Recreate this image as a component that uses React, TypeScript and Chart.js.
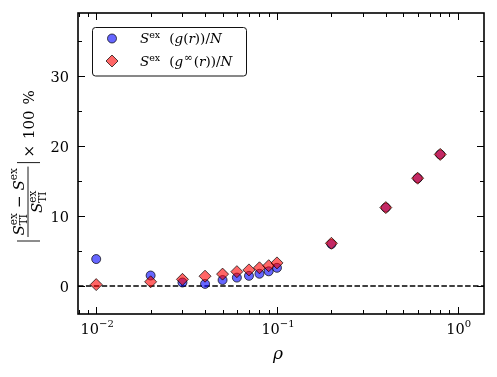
import React, { useEffect, useRef } from 'react';
import { Chart, registerables } from 'chart.js';

Chart.register(...registerables);

// ---- data ----
const RHO = [0.01, 0.02, 0.03, 0.04, 0.05, 0.06, 0.07, 0.08, 0.09, 0.1, 0.2, 0.4, 0.6, 0.8];
const ERR_G = [3.85, 1.5, 0.5, 0.3, 0.85, 1.2, 1.45, 1.75, 2.1, 2.6, 6.0, 11.2, 15.4, 18.8];
const ERR_GINF = [0.2, 0.6, 0.95, 1.4, 1.7, 2.05, 2.3, 2.6, 2.9, 3.3, 6.1, 11.2, 15.4, 18.8];
const Y_TICKS = [0, 10, 20, 30];
const Y_MINOR = [5, 15, 25, 35];
const X_EXPONENTS = [-2, -1, 0];
const ZERO_LINE = 0;
const X_MIN = 0.00793;
const X_MAX = 1.397;
const Y_MIN = -4;
const Y_MAX = 39;

const FONT = '"DejaVu Serif", serif';

interface Seg { t: string; s: number; it?: boolean; dy?: number; dx?: number; stack?: boolean }

function runSegs(ctx: CanvasRenderingContext2D, segs: Seg[], x0: number, y0: number, draw: boolean): number {
  let x = x0;
  let lastStart = x0;
  for (const sg of segs) {
    ctx.font = `${sg.it ? 'italic ' : ''}${sg.s}px ${FONT}`;
    const w = ctx.measureText(sg.t).width;
    const start = sg.stack ? lastStart : x + (sg.dx || 0);
    if (draw) ctx.fillText(sg.t, start, y0 + (sg.dy || 0));
    x = sg.stack ? Math.max(x, start + w) : start + w;
    lastStart = start;
  }
  return x - x0;
}

function drawCentered(ctx: CanvasRenderingContext2D, segs: Seg[], cx: number, y: number) {
  const w = runSegs(ctx, segs, 0, 0, false);
  runSegs(ctx, segs, cx - w / 2, y, true);
}

const decoPlugin = {
  id: 'deco',
  beforeDatasetsDraw(chart: any) {
    const { ctx, chartArea: a, scales } = chart;
    const y0 = scales.y.getPixelForValue(ZERO_LINE);
    ctx.save();
    ctx.strokeStyle = '#000';
    ctx.lineWidth = 1.5;
    ctx.setLineDash([5.5, 2.4]);
    ctx.beginPath();
    ctx.moveTo(a.left, y0);
    ctx.lineTo(a.right, y0);
    ctx.stroke();
    ctx.restore();
  },
  afterDraw(chart: any) {
    const { ctx, chartArea: a, scales } = chart;
    const xs = scales.x;
    const ys = scales.y;
    ctx.save();
    ctx.fillStyle = '#000';
    ctx.strokeStyle = '#000';
    ctx.textAlign = 'left';
    ctx.textBaseline = 'alphabetic';

    // ticks (inward, all four sides)
    ctx.lineWidth = 1;
    const MAJ = 7, MIN = 4;
    const xTick = (v: number, len: number) => {
      const px = Math.round(xs.getPixelForValue(v)) + 0.5;
      if (px < a.left || px > a.right) return;
      ctx.beginPath();
      ctx.moveTo(px, a.bottom); ctx.lineTo(px, a.bottom - len);
      ctx.moveTo(px, a.top); ctx.lineTo(px, a.top + len);
      ctx.stroke();
    };
    const yTick = (v: number, len: number) => {
      const py = Math.round(ys.getPixelForValue(v)) + 0.5;
      if (py < a.top || py > a.bottom) return;
      ctx.beginPath();
      ctx.moveTo(a.left, py); ctx.lineTo(a.left + len, py);
      ctx.moveTo(a.right, py); ctx.lineTo(a.right - len, py);
      ctx.stroke();
    };
    for (let e = -3; e <= 0; e++) {
      const base = Math.pow(10, e);
      if (base >= X_MIN) xTick(base, MAJ);
      for (let k = 2; k <= 9; k++) {
        const v = k * base;
        if (v >= X_MIN && v <= X_MAX) xTick(v, MIN);
      }
    }
    Y_TICKS.forEach((v) => yTick(v, MAJ));
    Y_MINOR.forEach((v) => yTick(v, MIN));

    // frame
    ctx.lineWidth = 1.6;
    ctx.strokeRect(a.left, a.top, a.right - a.left, a.bottom - a.top);

    // y tick labels
    ctx.textAlign = 'right';
    ctx.font = `14.5px ${FONT}`;
    Y_TICKS.forEach((v) => {
      ctx.fillText(String(v), a.left - 9, ys.getPixelForValue(v) + 5.5);
    });
    ctx.textAlign = 'left';

    // x tick labels
    X_EXPONENTS.forEach((e) => {
      const segs: Seg[] = [
        { t: '10', s: 14.5 },
        { t: e < 0 ? '\u2212' + String(-e) : String(e), s: 10, dy: -7 },
      ];
      drawCentered(ctx, segs, xs.getPixelForValue(Math.pow(10, e)) + 1, a.bottom + 20);
    });

    // x label
    drawCentered(ctx, [{ t: '\u03c1', s: 17, it: true }], (a.left + a.right) / 2 - 3, a.bottom + 45);

    // y label (rotated)
    ctx.save();
    ctx.translate(28, 241);
    ctx.rotate(-Math.PI / 2);
    ctx.lineWidth = 0.9;
    const num: Seg[] = [
      { t: 'S', s: 15, it: true },
      { t: 'ex', s: 10.5, dy: -6.5 },
      { t: 'TI', s: 10.5, dy: 3.5, stack: true },
      { t: '\u2212', s: 15, dx: 5 },
      { t: 'S', s: 15, it: true, dx: 5 },
      { t: 'ex', s: 10.5, dy: -6.5 },
    ];
    const den: Seg[] = [
      { t: 'S', s: 15, it: true },
      { t: 'ex', s: 10.5, dy: -6.5 },
      { t: 'TI', s: 10.5, dy: 3.5, stack: true },
    ];
    const wn = runSegs(ctx, num, 0, 0, false);
    const wd = runSegs(ctx, den, 0, 0, false);
    const W = Math.max(wn, wd) + 3;
    const u0 = 4;
    // left bar
    ctx.beginPath(); ctx.moveTo(0, -11); ctx.lineTo(0, 12); ctx.stroke();
    runSegs(ctx, num, u0 + (W - wn) / 2, -4.5, true);
    ctx.beginPath(); ctx.moveTo(u0, 0); ctx.lineTo(u0 + W, 0); ctx.stroke();
    runSegs(ctx, den, u0 + (W - wd) / 2, 14, true);
    const u1 = u0 + W + 4;
    ctx.beginPath(); ctx.moveTo(u1, -11); ctx.lineTo(u1, 12); ctx.stroke();
    runSegs(ctx, [
      { t: '\u00d7', s: 15, dx: 5 },
      { t: '100', s: 15, dx: 6 },
      { t: '%', s: 15, dx: 6 },
    ], u1, 5.5, true);
    ctx.restore();

    // legend
    const lx = 92.5, ly = 27.5, lw = 154, lh = 48.5;
    ctx.fillStyle = 'rgba(255,255,255,0.9)';
    ctx.beginPath();
    ctx.roundRect(lx, ly, lw, lh, 3);
    ctx.fill();
    ctx.strokeStyle = '#111';
    ctx.lineWidth = 1;
    ctx.stroke();
    // markers
    ctx.lineWidth = 1;
    ctx.strokeStyle = 'rgba(0,0,0,0.7)';
    ctx.fillStyle = 'rgba(0,0,255,0.6)';
    ctx.beginPath(); ctx.arc(112, 38.5, 4.5, 0, Math.PI * 2); ctx.fill(); ctx.stroke();
    ctx.fillStyle = 'rgba(255,0,0,0.6)';
    ctx.beginPath();
    ctx.moveTo(112, 55); ctx.lineTo(118, 61); ctx.lineTo(112, 67); ctx.lineTo(106, 61); ctx.closePath();
    ctx.fill(); ctx.stroke();
    ctx.fillStyle = '#000';
    const row1: Seg[] = [
      { t: 'S', s: 13.5, it: true },
      { t: 'ex', s: 9.5, dy: -5.5 },
      { t: '(', s: 13.5, dx: 9 },
      { t: 'g', s: 13.5, it: true },
      { t: '(', s: 13.5 },
      { t: 'r', s: 13.5, it: true },
      { t: '))/', s: 13.5 },
      { t: 'N', s: 13.5, it: true },
    ];
    const row2: Seg[] = [
      { t: 'S', s: 13.5, it: true },
      { t: 'ex', s: 9.5, dy: -5.5 },
      { t: '(', s: 13.5, dx: 9 },
      { t: 'g', s: 13.5, it: true },
      { t: '\u221e', s: 11, dy: -5.5, dx: 0.5 },
      { t: '(', s: 13.5, dx: 1 },
      { t: 'r', s: 13.5, it: true },
      { t: '))/', s: 13.5 },
      { t: 'N', s: 13.5, it: true },
    ];
    runSegs(ctx, row1, 140, 43, true);
    runSegs(ctx, row2, 140, 66, true);
    ctx.restore();
  },
};

export default function App() {
  const ref = useRef<HTMLCanvasElement | null>(null);
  useEffect(() => {
    if (!ref.current) return;
    const chart = new Chart(ref.current, {
      type: 'scatter',
      data: {
        datasets: [
          {
            label: 'Sex (g(r))/N',
            data: RHO.map((x, i) => ({ x, y: ERR_G[i] })),
            pointStyle: 'circle',
            pointRadius: 4.5,
            backgroundColor: 'rgba(0,0,255,0.6)',
            borderColor: 'rgba(0,0,0,0.7)',
            borderWidth: 1,
            order: 2,
          },
          {
            label: 'Sex (ginf(r))/N',
            data: RHO.map((x, i) => ({ x, y: ERR_GINF[i] })),
            pointStyle: 'rectRot',
            pointRadius: 6,
            backgroundColor: 'rgba(255,0,0,0.6)',
            borderColor: 'rgba(0,0,0,0.7)',
            borderWidth: 1,
            order: 1,
          },
        ],
      },
      options: {
        responsive: false,
        animation: false,
        devicePixelRatio: 1,
        layout: { padding: { left: 78, right: 13, top: 13, bottom: 63 } },
        plugins: { legend: { display: false }, tooltip: { enabled: false } },
        scales: {
          x: { type: 'logarithmic', min: X_MIN, max: X_MAX, display: false },
          y: { type: 'linear', min: Y_MIN, max: Y_MAX, display: false },
        },
      },
      plugins: [decoPlugin],
    });
    return () => chart.destroy();
  }, []);
  return (
    <canvas
      ref={ref}
      width={497}
      height={377}
      style={{ position: 'absolute', left: 0, top: 0, width: 497, height: 377 }}
    />
  );
}
